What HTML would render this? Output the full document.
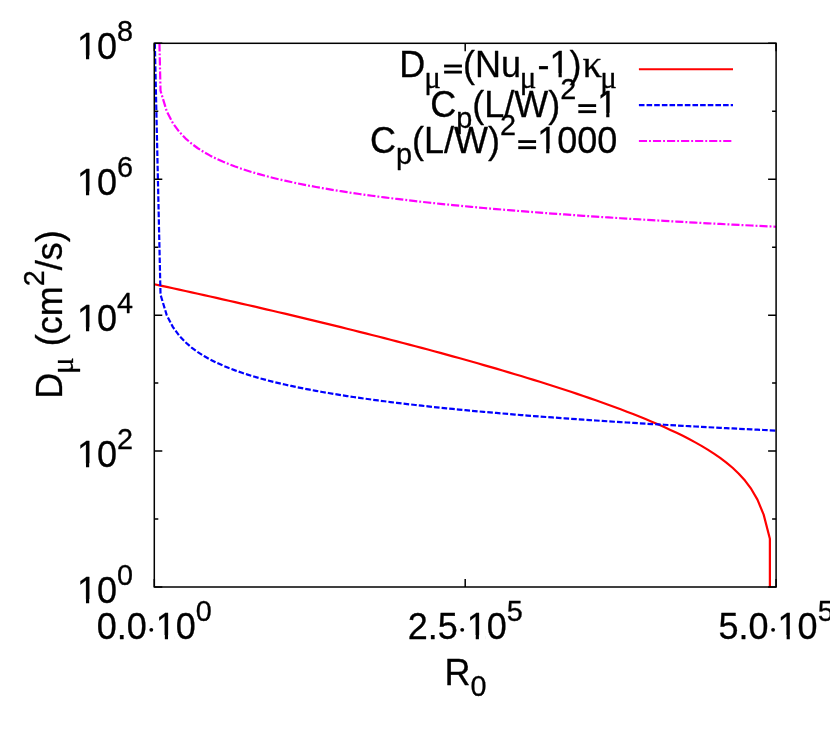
<!DOCTYPE html>
<html><head><meta charset="utf-8"><title>plot</title>
<style>html,body{margin:0;padding:0;background:#fff;}svg{display:block;will-change:transform;}text{white-space:pre;}</style></head>
<body>
<svg width="830" height="738" viewBox="0 0 830 738" font-family="'Liberation Sans', sans-serif" fill="#000">
<style>text{stroke:#000;stroke-width:0.3px;stroke-linejoin:round;}</style>
<rect width="830" height="738" fill="#fff"/>
<clipPath id="cp"><rect x="154.3" y="43.3" width="621.8" height="543.7"/></clipPath>
<g clip-path="url(#cp)" fill="none" stroke-linejoin="round">
<path d="M154.30,284.23 L160.52,285.58 L166.74,286.93 L172.95,288.29 L179.17,289.65 L185.39,291.02 L191.61,292.39 L197.83,293.77 L204.04,295.15 L210.26,296.54 L216.48,297.94 L222.70,299.34 L228.92,300.75 L235.13,302.16 L241.35,303.58 L247.57,305.00 L253.79,306.44 L260.01,307.87 L266.22,309.32 L272.44,310.77 L278.66,312.23 L284.88,313.69 L291.10,315.16 L297.31,316.64 L303.53,318.12 L309.75,319.62 L315.97,321.12 L322.19,322.62 L328.40,324.14 L334.62,325.66 L340.84,327.19 L347.06,328.73 L353.28,330.28 L359.49,331.83 L365.71,333.40 L371.93,334.97 L378.15,336.55 L384.37,338.14 L390.58,339.75 L396.80,341.36 L403.02,342.98 L409.24,344.61 L415.46,346.25 L421.67,347.90 L427.89,349.56 L434.11,351.24 L440.33,352.92 L446.55,354.62 L452.76,356.33 L458.98,358.05 L465.20,359.79 L471.42,361.54 L477.64,363.30 L483.85,365.08 L490.07,366.87 L496.29,368.68 L502.51,370.50 L508.73,372.34 L514.94,374.19 L521.16,376.07 L527.38,377.96 L533.60,379.87 L539.82,381.80 L546.03,383.76 L552.25,385.73 L558.47,387.73 L564.69,389.75 L570.91,391.80 L577.12,393.87 L583.34,395.98 L589.56,398.11 L595.78,400.28 L602.00,402.47 L608.21,404.71 L614.43,406.99 L620.65,409.30 L626.87,411.67 L633.09,414.08 L639.30,416.54 L645.52,419.07 L651.74,421.66 L657.96,424.32 L664.18,427.06 L670.39,429.88 L676.61,432.81 L682.83,435.86 L689.05,439.03 L695.27,442.36 L701.48,445.86 L707.70,449.58 L713.92,453.56 L720.14,457.85 L726.36,462.55 L732.57,467.77 L738.79,473.69 L745.01,480.60 L751.23,488.96 L757.45,499.67 L763.66,514.62 L769.88,538.78 L769.88,592.00" stroke="#ff0000" stroke-width="2.2"/>
<path d="M154.83,43.30 L160.52,294.69 L166.74,315.15 L172.95,327.12 L179.17,335.61 L185.39,342.19 L191.61,347.58 L197.83,352.13 L204.04,356.07 L210.26,359.54 L216.48,362.65 L222.70,365.47 L228.92,368.04 L235.13,370.40 L241.35,372.58 L247.57,374.62 L253.79,376.53 L260.01,378.32 L266.22,380.00 L272.44,381.60 L278.66,383.11 L284.88,384.55 L291.10,385.93 L297.31,387.24 L303.53,388.49 L309.75,389.70 L315.97,390.86 L322.19,391.97 L328.40,393.04 L334.62,394.08 L340.84,395.08 L347.06,396.05 L353.28,396.99 L359.49,397.89 L365.71,398.77 L371.93,399.63 L378.15,400.46 L384.37,401.27 L390.58,402.06 L396.80,402.82 L403.02,403.57 L409.24,404.30 L415.46,405.01 L421.67,405.71 L427.89,406.38 L434.11,407.05 L440.33,407.70 L446.55,408.33 L452.76,408.95 L458.98,409.56 L465.20,410.16 L471.42,410.74 L477.64,411.32 L483.85,411.88 L490.07,412.43 L496.29,412.97 L502.51,413.50 L508.73,414.02 L514.94,414.54 L521.16,415.04 L527.38,415.54 L533.60,416.03 L539.82,416.51 L546.03,416.98 L552.25,417.44 L558.47,417.90 L564.69,418.35 L570.91,418.80 L577.12,419.23 L583.34,419.66 L589.56,420.09 L595.78,420.51 L602.00,420.92 L608.21,421.33 L614.43,421.73 L620.65,422.13 L626.87,422.52 L633.09,422.90 L639.30,423.28 L645.52,423.66 L651.74,424.03 L657.96,424.40 L664.18,424.76 L670.39,425.12 L676.61,425.47 L682.83,425.82 L689.05,426.16 L695.27,426.51 L701.48,426.84 L707.70,427.18 L713.92,427.51 L720.14,427.83 L726.36,428.16 L732.57,428.47 L738.79,428.79 L745.01,429.10 L751.23,429.41 L757.45,429.72 L763.66,430.02 L769.88,430.32 L776.10,430.62" stroke="#0000ff" stroke-width="2.2" stroke-dasharray="5.6 2.05"/>
<path d="M159.44,43.30 L160.52,90.80 L166.74,111.26 L172.95,123.23 L179.17,131.72 L185.39,138.31 L191.61,143.69 L197.83,148.24 L204.04,152.18 L210.26,155.66 L216.48,158.77 L222.70,161.58 L228.92,164.15 L235.13,166.51 L241.35,168.70 L247.57,170.73 L253.79,172.64 L260.01,174.43 L266.22,176.12 L272.44,177.71 L278.66,179.22 L284.88,180.67 L291.10,182.04 L297.31,183.35 L303.53,184.61 L309.75,185.81 L315.97,186.97 L322.19,188.08 L328.40,189.16 L334.62,190.19 L340.84,191.19 L347.06,192.16 L353.28,193.10 L359.49,194.01 L365.71,194.89 L371.93,195.74 L378.15,196.57 L384.37,197.38 L390.58,198.17 L396.80,198.94 L403.02,199.68 L409.24,200.41 L415.46,201.12 L421.67,201.82 L427.89,202.50 L434.11,203.16 L440.33,203.81 L446.55,204.44 L452.76,205.07 L458.98,205.67 L465.20,206.27 L471.42,206.85 L477.64,207.43 L483.85,207.99 L490.07,208.54 L496.29,209.08 L502.51,209.61 L508.73,210.14 L514.94,210.65 L521.16,211.16 L527.38,211.65 L533.60,212.14 L539.82,212.62 L546.03,213.09 L552.25,213.56 L558.47,214.01 L564.69,214.46 L570.91,214.91 L577.12,215.35 L583.34,215.78 L589.56,216.20 L595.78,216.62 L602.00,217.03 L608.21,217.44 L614.43,217.84 L620.65,218.24 L626.87,218.63 L633.09,219.01 L639.30,219.40 L645.52,219.77 L651.74,220.14 L657.96,220.51 L664.18,220.87 L670.39,221.23 L676.61,221.58 L682.83,221.93 L689.05,222.28 L695.27,222.62 L701.48,222.96 L707.70,223.29 L713.92,223.62 L720.14,223.95 L726.36,224.27 L732.57,224.59 L738.79,224.90 L745.01,225.21 L751.23,225.52 L757.45,225.83 L763.66,226.13 L769.88,226.43 L776.10,226.73" stroke="#ff00ff" stroke-width="2.2" stroke-dasharray="8.15 2 1.9 2"/>
</g>
<path d="M638.9,69.25 L733.0,69.25" stroke="#ff0000" stroke-width="2.2" fill="none"/>
<path d="M638.9,105.1 L733.0,105.1" stroke="#0000ff" stroke-width="2.2" fill="none" stroke-dasharray="5.6 2.05"/>
<path d="M638.9,141.0 L733.0,141.0" stroke="#ff00ff" stroke-width="2.2" fill="none" stroke-dasharray="8.15 2 1.9 2"/>
<g stroke="#000" stroke-width="1.5" fill="none" stroke-linecap="butt">
<rect x="154.3" y="43.3" width="621.8" height="543.7"/>
<path d="M154.3,587.00 h8 M776.1,587.00 h-8"/>
<path d="M154.3,519.04 h4 M776.1,519.04 h-4"/>
<path d="M154.3,451.07 h8 M776.1,451.07 h-8"/>
<path d="M154.3,383.11 h4 M776.1,383.11 h-4"/>
<path d="M154.3,315.15 h8 M776.1,315.15 h-8"/>
<path d="M154.3,247.19 h4 M776.1,247.19 h-4"/>
<path d="M154.3,179.22 h8 M776.1,179.22 h-8"/>
<path d="M154.3,111.26 h4 M776.1,111.26 h-4"/>
<path d="M154.3,43.30 h8 M776.1,43.30 h-8"/>
<path d="M154.30,587.0 v-8 M154.30,43.3 v8"/>
<path d="M465.20,587.0 v-8 M465.20,43.3 v8"/>
<path d="M776.10,587.0 v-8 M776.10,43.3 v8"/>
</g>
<text x="76.96" y="603.00" font-size="36.00">10</text>
<text x="116.99" y="585.00" font-size="28.80">0</text>
<rect x="78.76" y="599.22" width="7.22" height="6.30" fill="#fff"/>
<rect x="89.18" y="599.22" width="6.84" height="6.30" fill="#fff"/>
<text x="76.96" y="467.07" font-size="36.00">10</text>
<text x="116.99" y="449.07" font-size="28.80">2</text>
<rect x="78.76" y="463.30" width="7.22" height="6.30" fill="#fff"/>
<rect x="89.18" y="463.30" width="6.84" height="6.30" fill="#fff"/>
<text x="76.96" y="331.15" font-size="36.00">10</text>
<text x="116.99" y="313.15" font-size="28.80">4</text>
<rect x="78.76" y="327.37" width="7.22" height="6.30" fill="#fff"/>
<rect x="89.18" y="327.37" width="6.84" height="6.30" fill="#fff"/>
<text x="76.96" y="195.22" font-size="36.00">10</text>
<text x="116.99" y="177.22" font-size="28.80">6</text>
<rect x="78.76" y="191.44" width="7.22" height="6.30" fill="#fff"/>
<rect x="89.18" y="191.44" width="6.84" height="6.30" fill="#fff"/>
<text x="76.96" y="59.30" font-size="36.00">10</text>
<text x="116.99" y="41.30" font-size="28.80">8</text>
<rect x="78.76" y="55.52" width="7.22" height="6.30" fill="#fff"/>
<rect x="89.18" y="55.52" width="6.84" height="6.30" fill="#fff"/>
<text x="96.76" y="639.00" font-size="36.00">0.0</text>
<circle cx="151.30" cy="629.84" r="1.94" fill="#000"/>
<text x="155.80" y="639.00" font-size="36.00">10</text>
<text x="195.83" y="621.00" font-size="28.80">0</text>
<rect x="157.60" y="635.22" width="7.22" height="6.30" fill="#fff"/>
<rect x="168.02" y="635.22" width="6.84" height="6.30" fill="#fff"/>
<text x="407.66" y="639.00" font-size="36.00">2.5</text>
<circle cx="462.20" cy="629.84" r="1.94" fill="#000"/>
<text x="466.70" y="639.00" font-size="36.00">10</text>
<text x="506.73" y="621.00" font-size="28.80">5</text>
<rect x="468.50" y="635.22" width="7.22" height="6.30" fill="#fff"/>
<rect x="478.92" y="635.22" width="6.84" height="6.30" fill="#fff"/>
<text x="718.56" y="639.00" font-size="36.00">5.0</text>
<circle cx="773.10" cy="629.84" r="1.94" fill="#000"/>
<text x="777.60" y="639.00" font-size="36.00">10</text>
<text x="817.63" y="621.00" font-size="28.80">5</text>
<rect x="779.40" y="635.22" width="7.22" height="6.30" fill="#fff"/>
<rect x="789.82" y="635.22" width="6.84" height="6.30" fill="#fff"/>
<text x="444.60" y="685.00" font-size="36.00">R</text>
<text x="470.59" y="696.34" font-size="28.80">0</text>
<g transform="translate(62.0,398.79) rotate(-90)">
<text x="0.00" y="0.00" font-size="36.00">D</text>
<text x="24.84" y="11.34" font-size="31.10" font-family="'Liberation Serif', serif">μ</text>
<text x="42.58" y="0.00" font-size="36.00"> (cm</text>
<text x="112.56" y="-18.00" font-size="28.80">2</text>
<text x="128.58" y="0.00" font-size="36.00">/s)</text>
</g>
<text x="399.37" y="77.00" font-size="36.00">D</text>
<text x="424.21" y="88.34" font-size="31.10" font-family="'Liberation Serif', serif">μ</text>
<rect x="444.11" y="64.58" width="17.82" height="2.81" fill="#000"/>
<rect x="444.11" y="70.70" width="17.82" height="2.81" fill="#000"/>
<text x="462.97" y="77.00" font-size="36.00">(Nu</text>
<text x="519.81" y="88.34" font-size="31.10" font-family="'Liberation Serif', serif">μ</text>
<text x="537.56" y="77.00" font-size="36.00">-1)</text>
<text x="582.38" y="77.00" font-size="38.88" font-family="'Liberation Serif', serif">κ</text>
<text x="600.16" y="88.34" font-size="31.10" font-family="'Liberation Serif', serif">μ</text>
<rect x="551.34" y="73.22" width="7.22" height="6.30" fill="#fff"/>
<rect x="561.77" y="73.22" width="6.84" height="6.30" fill="#fff"/>
<text x="430.16" y="116.60" font-size="36.00">C</text>
<text x="456.15" y="127.94" font-size="28.80">p</text>
<text x="472.16" y="116.60" font-size="36.00">(L/W)</text>
<text x="560.15" y="98.60" font-size="28.80">2</text>
<rect x="578.32" y="104.18" width="17.82" height="2.81" fill="#000"/>
<rect x="578.32" y="110.30" width="17.82" height="2.81" fill="#000"/>
<text x="597.18" y="116.60" font-size="36.00">1</text>
<rect x="598.98" y="112.82" width="7.22" height="6.30" fill="#fff"/>
<rect x="609.41" y="112.82" width="6.84" height="6.30" fill="#fff"/>
<text x="370.11" y="152.60" font-size="36.00">C</text>
<text x="396.10" y="163.94" font-size="28.80">p</text>
<text x="412.12" y="152.60" font-size="36.00">(L/W)</text>
<text x="500.10" y="134.60" font-size="28.80">2</text>
<rect x="518.27" y="140.18" width="17.82" height="2.81" fill="#000"/>
<rect x="518.27" y="146.30" width="17.82" height="2.81" fill="#000"/>
<text x="537.14" y="152.60" font-size="36.00">1000</text>
<rect x="538.94" y="148.82" width="7.22" height="6.30" fill="#fff"/>
<rect x="549.36" y="148.82" width="6.84" height="6.30" fill="#fff"/>
</svg>
</body></html>
